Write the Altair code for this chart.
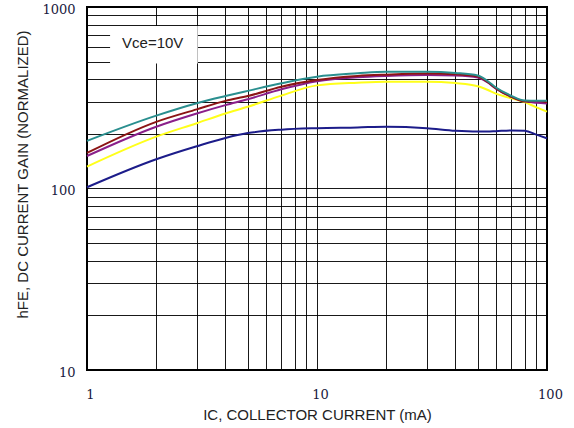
import altair as alt
import pandas as pd

# Collector current (mA)
ic = [1, 2, 3, 4, 5, 7, 10, 15, 20, 30, 40, 50, 55, 60, 70, 80, 90, 100]

# hFE curves (normalized)
navy = [101.6, 145, 171, 190, 202, 211, 215, 217, 219, 215, 208, 206, 206, 207, 209, 208, 198, 189]
yellow = [132, 193, 229, 259, 282, 325, 370, 383, 388, 388, 381, 366, 350, 333, 314, 299, 280, 265]
purple = [151, 219, 259, 288, 310, 352, 390, 410, 417, 422, 419, 409, 385, 355, 320, 302, 297, 294]
maroon = [157, 233, 273, 304, 323, 364, 396, 417, 424, 430, 426, 414, 388, 356, 320, 302, 303, 299]
teal = [183, 252, 295, 323, 345, 380, 413, 431, 440, 440, 433, 419, 392, 360, 324, 305, 304, 304]

series_names = ["navy", "yellow", "purple", "maroon", "teal"]
series_vals = [navy, yellow, purple, maroon, teal]
series_colors = ["#1c1c8a", "#ffff1a", "#8a1f8a", "#8b1414", "#2a8f8f"]

x_grid = [1, 2, 3, 4, 5, 6, 7, 8, 9, 10, 20, 30, 40, 50, 60, 70, 80, 90, 100]
y_grid = [10, 20, 30, 40, 50, 60, 70, 80, 90, 100, 200, 300, 400, 500, 600, 700, 800, 900, 1000]

note_text = ["Vce=10V"]
note_x = [1.93]
note_y = [633]
box_x = [1.26]
box_x2 = [3.03]
box_y = [488]
box_y2 = [785]

rows = []
for name, vals in zip(series_names, series_vals):
    for x, y in zip(ic, vals):
        rows.append({"ic": x, "hfe": y, "series": name})
df = pd.DataFrame(rows)

xscale = alt.Scale(type="log", domain=[1, 100], nice=False)
yscale = alt.Scale(type="log", domain=[10, 1000], nice=False)

xaxis = alt.Axis(
    values=x_grid, format="d",
    labelExpr="(datum.value == 1 || datum.value == 10 || datum.value == 100) ? datum.label : ''",
    title="IC, COLLECTOR CURRENT (mA)",
    titleY=49, titleBaseline="alphabetic",
    labelPadding=18, labelOffset=3, labelFlush=False, labelOverlap=False,
)
yaxis = alt.Axis(
    values=y_grid, format="d",
    labelExpr="(datum.value == 10 || datum.value == 100 || datum.value == 1000) ? datum.label : ''",
    title="hFE, DC CURRENT GAIN (NORMALIZED)",
    titleX=-65, titleY=167, titleAngle=270, titleAlign="center", titleBaseline="middle",
    labelPadding=12, labelOffset=2, labelFlush=False, labelOverlap=False,
)

lines = alt.Chart(df).mark_line(strokeWidth=2, interpolate="monotone").encode(
    x=alt.X("ic:Q", scale=xscale, axis=xaxis),
    y=alt.Y("hfe:Q", scale=yscale, axis=yaxis),
    color=alt.Color("series:N", scale=alt.Scale(domain=series_names, range=series_colors), legend=None),
    detail="series:N",
)

box_df = pd.DataFrame({"x": box_x, "x2": box_x2, "y": box_y, "y2": box_y2})
box = alt.Chart(box_df).mark_rect(color="white").encode(
    x=alt.X("x:Q", scale=xscale), x2="x2:Q",
    y=alt.Y("y:Q", scale=yscale), y2="y2:Q",
)

note_df = pd.DataFrame({"x": note_x, "y": note_y, "t": note_text})
note = alt.Chart(note_df).mark_text(
    font="Liberation Sans", fontSize=15, color="#222222", align="center", baseline="middle"
).encode(
    x=alt.X("x:Q", scale=xscale), y=alt.Y("y:Q", scale=yscale), text="t:N"
)

chart = alt.layer(box, lines, note).properties(
    width=460, height=363,
    background="white",
    autosize=alt.AutoSizeParams(type="none"),
    padding={"left": 87, "top": 7, "right": 27, "bottom": 58},
).configure_view(
    stroke="#000000", strokeWidth=2
).configure_axis(
    grid=True, gridColor="#000000", gridWidth=1, gridOpacity=0.9,
    domain=False, ticks=False,
    labelFont="DejaVu Serif", labelFontSize=13, labelColor="#1a1a40",
    titleFont="Liberation Sans", titleFontSize=15, titleFontWeight="normal", titleColor="#222222",
)

chart.save("out.html", embed_options={"renderer": "svg", "actions": False})
